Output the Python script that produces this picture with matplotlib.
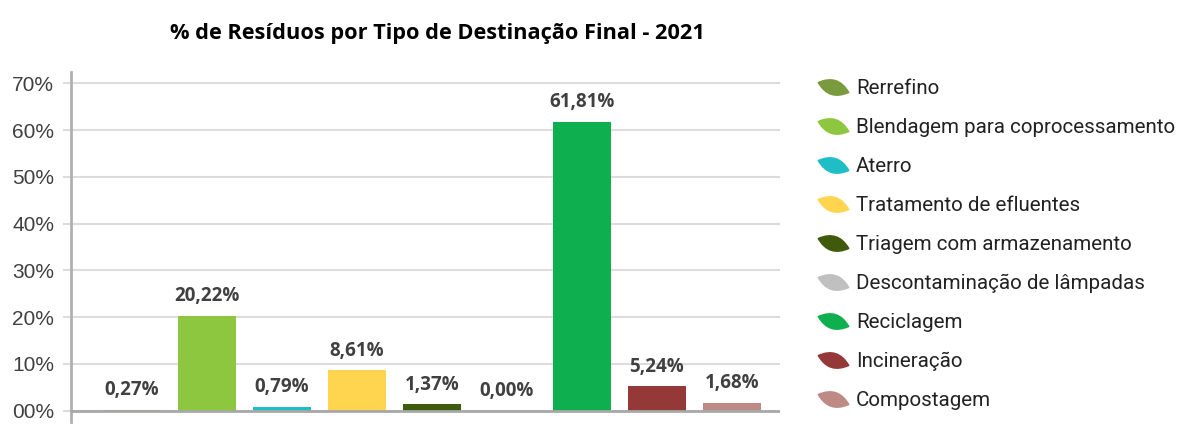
import matplotlib.pyplot as plt
import numpy as np
from matplotlib.path import Path
from matplotlib.lines import Line2D
from matplotlib.transforms import Affine2D

categorias = ["Rerrefino", "Blendagem para coprocessamento", "Aterro",
              "Tratamento de efluentes", "Triagem com armazenamento",
              "Descontaminação de lâmpadas", "Reciclagem", "Incineração",
              "Compostagem"]
valores = [0.27, 20.22, 0.79, 8.61, 1.37, 0.00, 61.81, 5.24, 1.68]
rotulos = ["0,27%", "20,22%", "0,79%", "8,61%", "1,37%", "0,00%", "61,81%", "5,24%", "1,68%"]
cores = ["#7a9a3e", "#8dc63f", "#1fbec6", "#ffd54f", "#3f5a0b",
         "#c0c0c0", "#0daf4e", "#943838", "#bd8a85"]
yticks = [0, 10, 20, 30, 40, 50, 60, 70]
ytick_labels = ["00%", "10%", "20%", "30%", "40%", "50%", "60%", "70%"]

W, H = 1179, 428
fig = plt.figure(figsize=(W / 100, H / 100), dpi=100)
ax = fig.add_axes([71 / W, (H - 422) / H, (780 - 71) / W, (422 - 72) / H])

x = np.arange(len(valores))
ax.bar(x, valores, width=0.78, color=cores, zorder=3)
for xi, v, r in zip(x, valores, rotulos):
    ax.annotate(r, (xi, v), xytext=(0, 7), textcoords="offset points",
                ha="center", va="bottom", fontsize=13.5, fontweight="bold",
                family="Open Sans", color="#404040")

ax.set_xlim(-0.81, 8.64)
ax.set_ylim(-2.4, 72.4)
ax.set_yticks(yticks)
ax.set_yticklabels(ytick_labels, family="Liberation Sans", fontsize=15, color="#404040")
ax.set_xticks([])
ax.grid(axis="y", color="#dcdcdc", lw=1.5, zorder=0)
ax.tick_params(axis="y", length=6, width=1.5, color="#dcdcdc", pad=6)
ax.axhline(0, color="#a8a8a8", lw=2, zorder=4)
for s in ["top", "right", "bottom"]:
    ax.spines[s].set_visible(False)
ax.spines["left"].set_color("#b0b0b0")
ax.spines["left"].set_linewidth(2)

fig.text(437 / W, 1 - 33 / H, "% de Resíduos por Tipo de Destinação Final - 2021",
         ha="center", va="center", fontsize=15.7, fontweight="bold", family="Open Sans")

# marcador em forma de folha para a legenda
verts = [(-1, 0), (0, 0.9), (1, 0), (0, -0.9), (-1, 0), (-1, 0)]
codes = [Path.MOVETO, Path.CURVE3, Path.CURVE3, Path.CURVE3, Path.CURVE3, Path.CLOSEPOLY]
leaf = Path(verts, codes).transformed(Affine2D().rotate_deg(-18))

handles = [Line2D([], [], marker=leaf, ls="", color=c, markersize=22) for c in cores]
fig.legend(handles, categorias, loc="upper left", bbox_to_anchor=(821 / W, 1 - 79 / H),
           frameon=False, prop={"family": "Roboto", "size": 14.8}, labelcolor="#222222",
           handlelength=1.2, handletextpad=0.5, labelspacing=0.97, borderaxespad=0,
           borderpad=0)

fig.savefig("out.png", dpi=100)
